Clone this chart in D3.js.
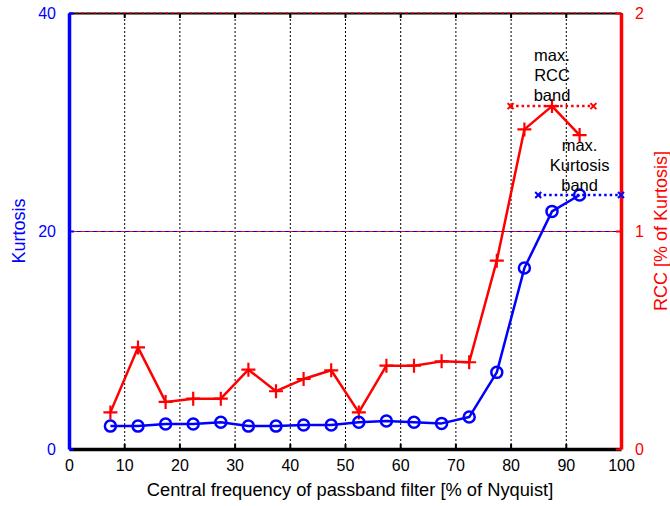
<!DOCTYPE html>
<html>
<head>
<meta charset="utf-8">
<script src="https://cdn.jsdelivr.net/npm/d3@7/dist/d3.min.js"></script>
<style>
  html, body { margin: 0; padding: 0; background: #fff; }
  svg { display: block; font-family: "Liberation Sans", Arial, Helvetica, sans-serif; }
</style>
</head>
<body>
<svg id="chart" width="670" height="506"></svg>
<script>
// Central frequency of each passband filter, % of Nyquist
const freq = [7.5, 12.5, 17.5, 22.5, 27.5, 32.5, 37.5, 42.5, 47.5, 52.5, 57.5, 62.5, 67.5, 72.5, 77.5, 82.5, 87.5, 92.5];
// Kurtosis of the filtered signal (left axis)
const kurtosis = [2.1, 2.1, 2.3, 2.3, 2.45, 2.1, 2.1, 2.2, 2.2, 2.45, 2.57, 2.45, 2.35, 2.93, 7.03, 16.6, 21.8, 23.3];
// RCC as % of kurtosis (right axis)
const rcc = [0.168, 0.466, 0.216, 0.231, 0.231, 0.364, 0.265, 0.321, 0.361, 0.168, 0.382, 0.382, 0.402, 0.398, 0.864, 1.466, 1.573, 1.44];
// Extent of the selected bands, % of Nyquist
const rccBand = [80, 95];
const kurtBand = [85, 100];
// Axis ticks
const xTicks = [0, 10, 20, 30, 40, 50, 60, 70, 80, 90, 100];
const kTicks = [0, 20, 40];
const rTicks = [0, 1, 2];

const W = 670, H = 506;
const m = { top: 13, right: 49, bottom: 57, left: 69 };
const w = W - m.left - m.right, h = H - m.top - m.bottom;
const BLUE = "#0000ff", RED = "#ff0000";
const fmt = d3.format("d");

const svg = d3.select("#chart");
const g = svg.append("g").attr("transform", `translate(${m.left},${m.top})`);

const x = d3.scaleLinear().domain([0, 100]).range([0, w]);
const yK = d3.scaleLinear().domain([0, 40]).range([h, 0]);
const yR = d3.scaleLinear().domain([0, 2]).range([h, 0]);

// vertical dotted grid
g.append("g")
  .attr("transform", `translate(0,${h})`)
  .call(d3.axisBottom(x).tickValues(xTicks.slice(1, -1)).tickSize(-h).tickFormat(""))
  .call(s => s.select(".domain").remove())
  .call(s => s.selectAll("line").attr("stroke", "#000").attr("stroke-width", 1).attr("stroke-dasharray", "2,2"));

// horizontal grid: kurtosis (blue) and RCC (red) dashes overlap
g.append("g")
  .call(d3.axisLeft(yK).tickValues([20, 40]).tickSize(-w).tickFormat(""))
  .call(s => s.select(".domain").remove())
  .call(s => s.selectAll("line").attr("stroke", BLUE).attr("stroke-width", 1).attr("stroke-dasharray", "4,4"));
g.append("g")
  .call(d3.axisLeft(yR).tickValues([1, 2]).tickSize(-w).tickFormat(""))
  .call(s => s.select(".domain").remove())
  .call(s => s.selectAll("line").attr("stroke", RED).attr("stroke-width", 1).attr("stroke-dasharray", "4,4").attr("stroke-dashoffset", 4));

// top frame line with inward ticks
g.append("g")
  .call(d3.axisTop(x).tickValues(xTicks).tickSize(-5).tickSizeOuter(0).tickFormat(""))
  .call(s => s.select(".domain").attr("stroke", "#000").attr("stroke-width", 2))
  .call(s => s.selectAll("line").attr("stroke", "#000").attr("stroke-width", 2));
g.append("line").attr("x1", 0).attr("x2", w).attr("y1", 0).attr("y2", 0)
  .attr("stroke", RED).attr("stroke-width", 1).attr("stroke-dasharray", "3,3");

// bottom axis
const xAxis = g.append("g")
  .attr("transform", `translate(0,${h})`)
  .call(d3.axisBottom(x).tickValues(xTicks).tickFormat(fmt).tickSize(-5).tickSizeOuter(0).tickPadding(11));
xAxis.select(".domain").attr("stroke", "#000").attr("stroke-width", 3.5);
xAxis.selectAll("line").attr("stroke", "#000").attr("stroke-width", 2);
xAxis.selectAll("text").attr("fill", "#000").attr("font-size", 16).attr("font-family", null);

// left axis (kurtosis)
const kAxis = g.append("g")
  .call(d3.axisLeft(yK).tickValues(kTicks).tickFormat(fmt).tickSize(-5).tickSizeOuter(0).tickPadding(13));
kAxis.select(".domain").attr("stroke", BLUE).attr("stroke-width", 3.5);
kAxis.selectAll("line").attr("stroke", BLUE).attr("stroke-width", 2);
kAxis.selectAll("text").attr("fill", BLUE).attr("font-size", 16).attr("font-family", null);

// right axis (RCC)
const rAxis = g.append("g")
  .attr("transform", `translate(${w},0)`)
  .call(d3.axisRight(yR).tickValues(rTicks).tickFormat(fmt).tickSize(-5).tickSizeOuter(0).tickPadding(14));
rAxis.select(".domain").attr("stroke", RED).attr("stroke-width", 3.5);
rAxis.selectAll("line").attr("stroke", RED).attr("stroke-width", 2);
rAxis.selectAll("text").attr("fill", RED).attr("font-size", 16).attr("font-family", null);

// axis titles
svg.append("text").attr("x", m.left + w / 2 + 5).attr("y", 496)
  .attr("text-anchor", "middle").attr("font-size", 18.3).attr("fill", "#000")
  .text("Central frequency of passband filter [% of Nyquist]");
svg.append("text").attr("transform", `translate(25,${m.top + h / 2}) rotate(-90)`)
  .attr("text-anchor", "middle").attr("font-size", 18).attr("fill", BLUE).text("Kurtosis");
svg.append("text").attr("transform", `translate(667,${m.top + h / 2}) rotate(-90)`)
  .attr("text-anchor", "middle").attr("font-size", 18).attr("fill", RED).text("RCC [% of Kurtosis]");

// band lines: dotted with x markers at both ends
function band(ext, value, yScale, color) {
  const yy = yScale(value);
  g.append("line").attr("x1", x(ext[0])).attr("x2", x(ext[1])).attr("y1", yy).attr("y2", yy)
    .attr("stroke", color).attr("stroke-width", 2.5).attr("stroke-dasharray", "2.5,3");
  const s = 3;
  ext.forEach(e => {
    g.append("path")
      .attr("d", `M${x(e) - s},${yy - s}L${x(e) + s},${yy + s}M${x(e) - s},${yy + s}L${x(e) + s},${yy - s}`)
      .attr("stroke", color).attr("stroke-width", 2);
  });
}
const kMax = d3.max(kurtosis), rMax = d3.max(rcc);
band(rccBand, rMax, yR, RED);
band(kurtBand, kMax, yK, BLUE);

// RCC series with + markers
g.append("path").datum(rcc)
  .attr("d", d3.line().x((d, i) => x(freq[i])).y(d => yR(d)))
  .attr("fill", "none").attr("stroke", RED).attr("stroke-width", 2.5).attr("stroke-linejoin", "round");
g.selectAll(".plus").data(rcc).join("path").attr("class", "plus")
  .attr("d", (d, i) => { const px = x(freq[i]), py = yR(d), s = 7; return `M${px - s},${py}H${px + s}M${px},${py - s}V${py + s}`; })
  .attr("stroke", RED).attr("stroke-width", 2.2);

// kurtosis series with circle markers
g.append("path").datum(kurtosis)
  .attr("d", d3.line().x((d, i) => x(freq[i])).y(d => yK(d)))
  .attr("fill", "none").attr("stroke", BLUE).attr("stroke-width", 2.5).attr("stroke-linejoin", "round");
g.selectAll(".circ").data(kurtosis).join("circle").attr("class", "circ")
  .attr("cx", (d, i) => x(freq[i])).attr("cy", d => yK(d)).attr("r", 5.5)
  .attr("fill", "none").attr("stroke", BLUE).attr("stroke-width", 2.5);

// band annotations
function note(lines, fx, topY) {
  const t = g.append("text").attr("text-anchor", "middle").attr("font-size", 16.5).attr("fill", "#000");
  lines.forEach((l, i) => t.append("tspan").attr("x", x(fx)).attr("y", topY + i * 20).text(l));
}
const rPeak = freq[rcc.indexOf(rMax)], kPeak = freq[kurtosis.indexOf(kMax)];
note(["max.", "RCC", "band"], rPeak, 48);
note(["max.", "Kurtosis", "band"], kPeak, 138);
</script>
</body>
</html>
